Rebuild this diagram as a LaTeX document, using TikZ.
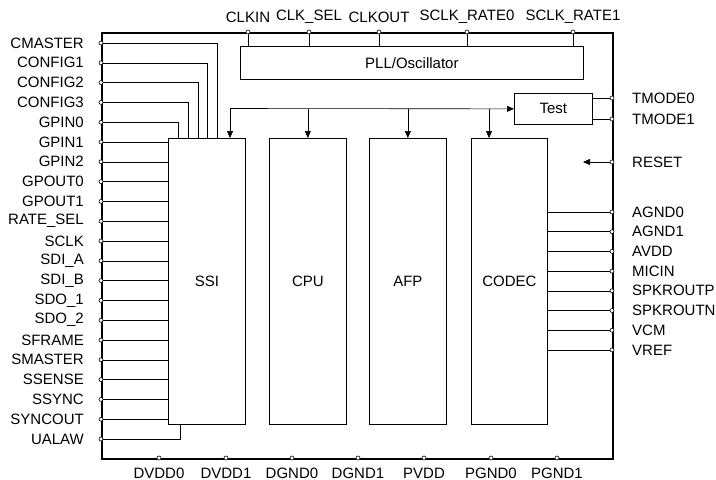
\documentclass[tikz,border=0pt]{standalone}
\usepackage{fontspec}
\setmainfont{Liberation Sans}
\usetikzlibrary{arrows.meta,calc}
\begin{document}
\begin{tikzpicture}[x=1pt,y=-1pt,
  every node/.style={font=\fontsize{15}{17}\selectfont},
  chipbox/.style={draw,line width=2.2pt,inner sep=0pt,anchor=north west},
  blk/.style={draw,line width=0.7pt,inner sep=0pt,anchor=north west},
  wire/.style={line width=0.6pt},
  arr/.style={line width=0.6pt,-{Triangle[length=7pt,width=6pt]}},
  pinc/.style={circle,draw,fill=white,line width=0.6pt,inner sep=0pt,minimum size=4pt},
  lbl/.style={inner sep=0pt}]
\useasboundingbox (0,0) rectangle (716,480);
% chip outline
\node[chipbox,minimum width=511pt,minimum height=426pt] (chip) at (101,32) {};
% blocks
\node[blk,minimum width=77pt,minimum height=286pt] (ssi) at (168,138) {SSI};
\node[blk,minimum width=77pt,minimum height=286pt] (cpu) at (269,138) {CPU};
\node[blk,minimum width=77pt,minimum height=286pt] (afp) at (369,138) {AFP};
\node[blk,minimum width=76pt,minimum height=286pt] (codec) at (471,138) {CODEC};
\node[blk,minimum width=343pt,minimum height=33pt] (pll) at (240,46) {PLL/Oscillator};
\node[blk,minimum width=78pt,minimum height=31pt] (test) at (514,93) {Test};
% internal bus
\coordinate (busL) at (230,108.5);
\draw[arr] (busL) -- (test.west);
\draw[arr] (busL) -- (busL |- ssi.north);
\draw[arr] (cpu.north |- busL) -- (cpu.north);
\draw[arr] (afp.north |- busL) -- (afp.north);
\coordinate (busC) at (489,108.5);
\draw[arr] (busC) -- (busC |- codec.north);
% left pins
\foreach \n [count=\i from 0] in {CMASTER,CONFIG1,CONFIG2,CONFIG3,GPIN0,GPIN1,GPIN2,GPOUT0,GPOUT1,RATE\_SEL,SCLK,SDI\_A,SDI\_B,SDO\_1,SDO\_2,SFRAME,SMASTER,SSENSE,SSYNC,SYNCOUT,UALAW}{
  \coordinate (pL\i) at (101,43+19.8*\i);
  \node[lbl,anchor=east] (tL\i) at ($(pL\i)+(-17,0)$) {\n};
}
\foreach \i/\dx in {0/49,1/39,2/30,3/20,4/10}{
  \draw[wire] (pL\i) -| ($(ssi.north west)+(\dx,0)$);
}
\foreach \i in {5,...,19}{
  \draw[wire] (pL\i) -- (pL\i -| ssi.west);
}
\draw[wire] (pL20) -| ($(ssi.south west)+(12,0)$);
% top pins
\foreach \x/\n [count=\i] in {248/CLKIN,309/CLK\_SEL,379/CLKOUT,467/SCLK\_RATE0,573/SCLK\_RATE1}{
  \coordinate (pT\i) at (\x,32);
  \node[lbl] (tT\i) at ($(pT\i)+(0,-15)$) {\n};
  \draw[wire] (pT\i) -- (pT\i |- pll.north);
}
% right pins: test
\coordinate (pR1) at (612,98);
\coordinate (pR2) at (612,119);
\draw[wire] (pR1) -- (pR1 -| test.east);
\draw[wire] (pR2) -- (pR2 -| test.east);
\node[lbl,anchor=west] (tR1) at ($(pR1)+(20,0)$) {TMODE0};
\node[lbl,anchor=west] (tR2) at ($(pR2)+(20,0)$) {TMODE1};
% reset
\coordinate (pR3) at (612,162);
\coordinate (rstEnd) at (583,162);
\draw[arr] (pR3) -- (rstEnd);
\node[lbl,anchor=west] (tR3) at ($(pR3)+(20,0)$) {RESET};
% codec pins
\foreach \n [count=\i from 0] in {AGND0,AGND1,AVDD,MICIN,SPKROUTP,SPKROUTN,VCM,VREF}{
  \coordinate (pC\i) at (612,212+19.7*\i);
  \draw[wire] (pC\i) -- (pC\i -| codec.east);
  \node[lbl,anchor=west] (tC\i) at ($(pC\i)+(20,0)$) {\n};
}
% bottom pins
\foreach \x/\n [count=\i] in {159/DVDD0,226/DVDD1,292/DGND0,358/DGND1,424/PVDD,491/PGND0,557/PGND1}{
  \coordinate (pB\i) at (\x,458);
  \node[lbl] (tB\i) at ($(pB\i)+(0,15)$) {\n};
}
% pin circles
\foreach \i in {0,...,20}{\node[pinc] at (pL\i) {};}
\foreach \i in {1,...,5}{\node[pinc] at (pT\i) {};}
\foreach \i in {1,...,3}{\node[pinc] at (pR\i) {};}
\foreach \i in {0,...,7}{\node[pinc] at (pC\i) {};}
\foreach \i in {1,...,7}{\node[pinc] at (pB\i) {};}
\end{tikzpicture}
\end{document}
